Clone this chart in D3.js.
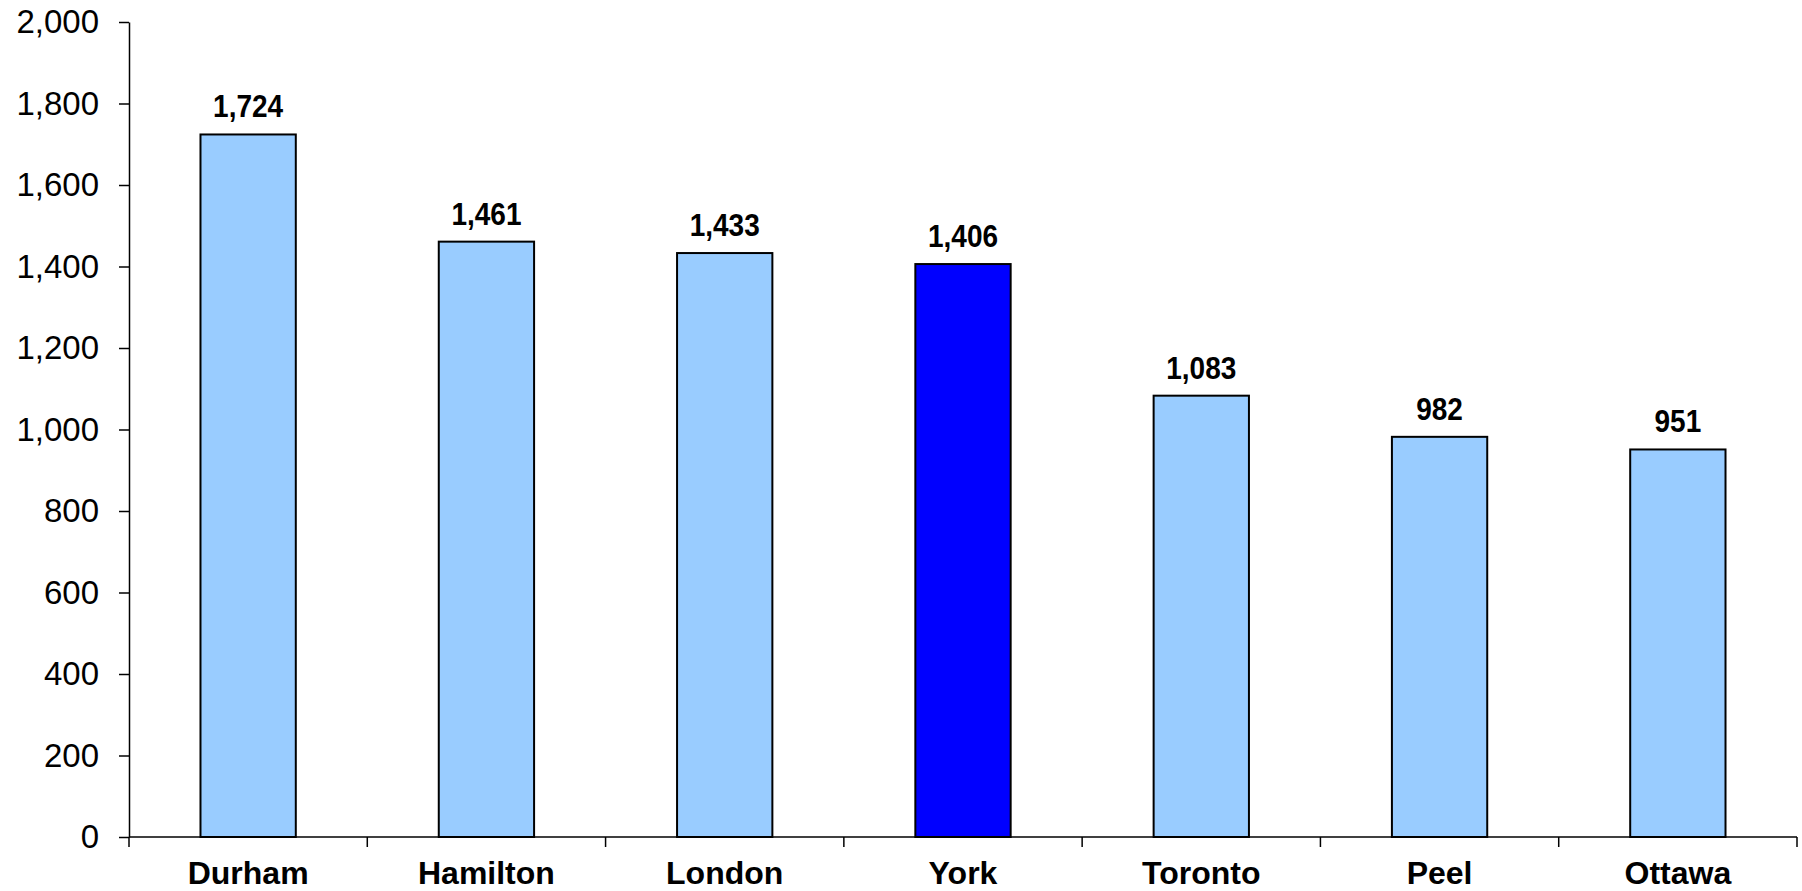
<!DOCTYPE html>
<html>
<head>
<meta charset="utf-8">
<script src="https://cdn.jsdelivr.net/npm/d3@7"></script>
<style>
  html, body { margin: 0; padding: 0; background: #ffffff; }
  svg { display: block; }
  text { font-family: "Liberation Sans", Arial, sans-serif; fill: #000; }
</style>
</head>
<body>
<svg id="chart" width="1802" height="891"></svg>
<script>
// Regions and their values
const regions = ["Durham", "Hamilton", "London", "York", "Toronto", "Peel", "Ottawa"];
const values = [1724, 1461, 1433, 1406, 1083, 982, 951];
const highlight = ["York"];
const yTicks = [0, 200, 400, 600, 800, 1000, 1200, 1400, 1600, 1800, 2000];

const svg = d3.select("#chart");
const plot = { left: 129, right: 1797, top: 22, bottom: 837 };

const x = d3.scaleBand()
  .domain(regions)
  .range([plot.left, plot.right])
  .paddingInner(0.6)
  .paddingOuter(0.3);

const y = d3.scaleLinear()
  .domain([0, 2000])
  .range([plot.bottom, plot.top]);

const fmt = d3.format(",");

// Y axis
const yAxis = svg.append("g")
  .attr("transform", `translate(${plot.left},0)`)
  .call(d3.axisLeft(y).tickValues(yTicks).tickFormat(fmt).tickSizeInner(10).tickSizeOuter(0).tickPadding(20));
yAxis.select(".domain").attr("stroke", "#000").attr("stroke-width", 1.5);
yAxis.selectAll(".tick line").attr("stroke", "#000").attr("stroke-width", 1.5);
yAxis.selectAll(".tick text")
  .style("font-family", "'Liberation Sans', Arial, sans-serif")
  .style("font-size", "33px")
  .attr("fill", "#000");

// X axis: ticks at band boundaries
const step = x.step();
const boundaries = d3.range(regions.length + 1).map(i => plot.left + i * step);
const xAxis = svg.append("g").attr("class", "x-axis");
xAxis.append("line")
  .attr("x1", plot.left).attr("x2", plot.right)
  .attr("y1", plot.bottom).attr("y2", plot.bottom)
  .attr("stroke", "#000").attr("stroke-width", 1.5);
xAxis.selectAll("line.sep")
  .data(boundaries)
  .join("line")
  .attr("class", "sep")
  .attr("x1", d => d).attr("x2", d => d)
  .attr("y1", plot.bottom).attr("y2", plot.bottom + 10)
  .attr("stroke", "#000").attr("stroke-width", 1.5);
xAxis.selectAll("text")
  .data(regions)
  .join("text")
  .attr("x", d => x(d) + x.bandwidth() / 2)
  .attr("y", 884)
  .attr("text-anchor", "middle")
  .style("font-size", "32px")
  .style("font-weight", "bold")
  .text(d => d);

// Bars
const data = regions.map((r, i) => ({ region: r, value: values[i] }));
svg.append("g")
  .selectAll("rect")
  .data(data)
  .join("rect")
  .attr("x", d => x(d.region))
  .attr("y", d => y(d.value))
  .attr("width", x.bandwidth())
  .attr("height", d => y(0) - y(d.value))
  .attr("fill", d => highlight.includes(d.region) ? "#0000FF" : "#99CCFF")
  .attr("stroke", "#000")
  .attr("stroke-width", 2);

// Value labels (slightly tall letterforms)
svg.append("g")
  .selectAll("text")
  .data(data)
  .join("text")
  .attr("transform", d => `translate(${x(d.region) + x.bandwidth() / 2},${y(d.value) - 17}) scale(1,1.1)`)
  .attr("text-anchor", "middle")
  .style("font-size", "28px")
  .style("font-weight", "bold")
  .text(d => fmt(d.value));
</script>
</body>
</html>
